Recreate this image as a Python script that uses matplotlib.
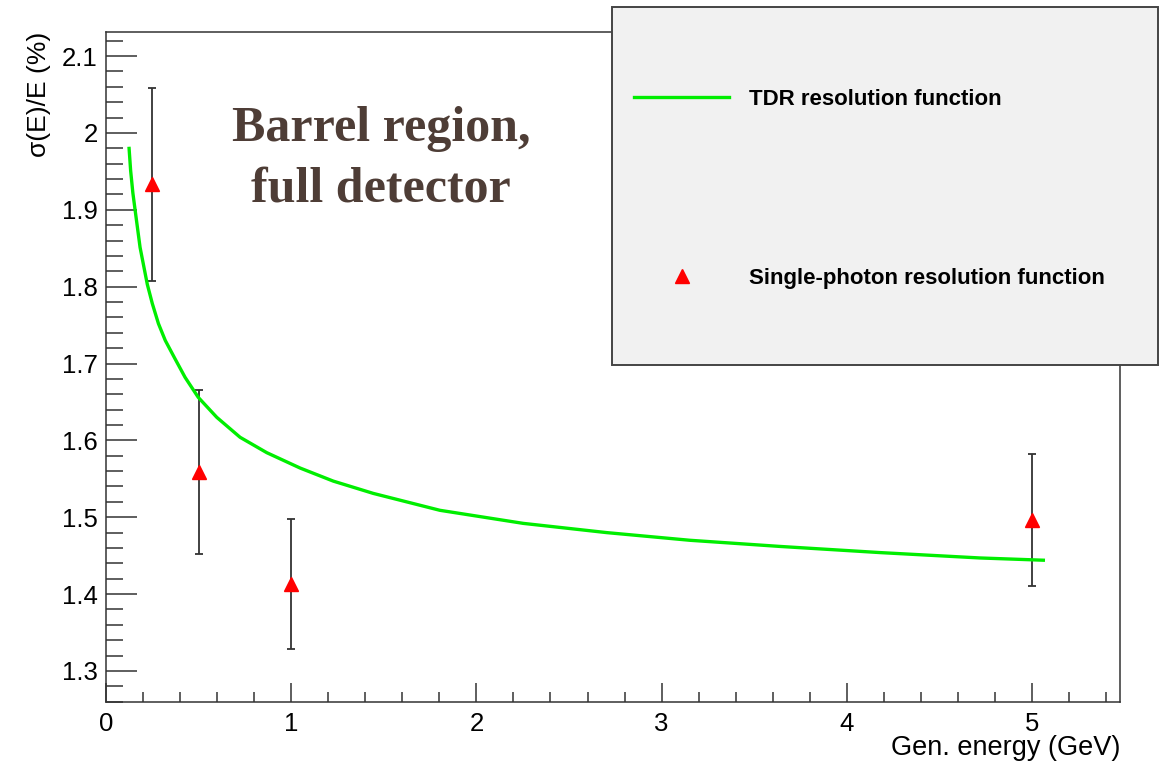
import numpy as np
import matplotlib.pyplot as plt
from matplotlib.patches import Rectangle
from matplotlib.lines import Line2D
from matplotlib.ticker import MultipleLocator

plt.rcParams['font.family'] = ['Liberation Sans', 'DejaVu Sans']

# TDR resolution curve
E_fit = [0.124, 0.133, 0.145, 0.157, 0.184, 0.223, 0.250, 0.283, 0.320, 0.373, 0.427,
         0.498, 0.598, 0.724, 0.868, 1.048, 1.227, 1.443, 1.803, 2.253, 2.703, 3.153,
         3.639, 4.179, 4.719, 5.070]
res_fit = [1.982, 1.951, 1.922, 1.900, 1.851, 1.803, 1.778, 1.752, 1.730, 1.706, 1.682,
           1.656, 1.630, 1.604, 1.584, 1.564, 1.547, 1.531, 1.509, 1.492, 1.480, 1.470,
           1.462, 1.454, 1.447, 1.444]

# single-photon measurements
E_pts = [0.25, 0.5, 1.0, 5.0]
res_pts = [1.933, 1.559, 1.413, 1.496]
err_pts = [0.126, 0.107, 0.085, 0.086]

W, H = 1162, 765
fig = plt.figure(figsize=(W / 100, H / 100), dpi=100)
ax = fig.add_axes([106 / W, 1 - 702 / H, 1014 / W, 670 / H])

green = '#00ee00'
ax.plot(E_fit, res_fit, color=green, lw=2.4, solid_capstyle='butt',
        solid_joinstyle='round', zorder=3)
ax.errorbar(E_pts, res_pts, yerr=err_pts, fmt='none', ecolor='#333333',
            elinewidth=1.3, capsize=3, capthick=1.3, zorder=2)
ax.plot(E_pts, res_pts, '^', color='red', ms=10, mec='red', zorder=4)

ax.set_xlim(0, 5.475)
ax.set_ylim(1.2596, 2.1313)

ax.xaxis.set_major_locator(MultipleLocator(1))
ax.xaxis.set_minor_locator(MultipleLocator(0.2))
ax.yaxis.set_major_locator(MultipleLocator(0.1))
ax.yaxis.set_minor_locator(MultipleLocator(0.02))
ax.yaxis.set_major_formatter(plt.FuncFormatter(lambda v, p: f'{v:g}'))

tc = '#333333'
ax.tick_params(axis='both', which='both', direction='in', color=tc, width=1.1,
               labelsize=18.5, top=False, right=False)
ax.tick_params(axis='y', which='major', length=22, pad=6)
ax.tick_params(axis='y', which='minor', length=12)
ax.tick_params(axis='x', which='major', length=14, pad=7)
ax.tick_params(axis='x', which='minor', length=7)
for s in ax.spines.values():
    s.set_color(tc)
    s.set_linewidth(1.1)

ax.text(1.0, -0.069, 'Gen. energy (GeV)', transform=ax.transAxes,
        ha='right', va='center', fontsize=19.5)
ax.text(-0.066, 1.0, 'σ(E)/E (%)', transform=ax.transAxes, rotation=90,
        ha='center', va='top', fontsize=19)

ax.text(0.271, 0.81, 'Barrel region,\nfull detector', transform=ax.transAxes,
        ha='center', va='center', multialignment='center', linespacing=1.4,
        fontsize=36, fontweight='bold', family='Liberation Serif', color='#4e3d36')

# legend panel over the top right corner
fig.add_artist(Rectangle((612 / W, 1 - 365 / H), 546 / W, 358 / H,
                         transform=fig.transFigure, facecolor='#f1f1f1',
                         edgecolor='#444444', lw=1.4, zorder=4))

handles = [Line2D([], [], color=green, lw=2.4),
           Line2D([], [], ls='none', marker='^', color='red', ms=10)]
labels = ['TDR resolution function', 'Single-photon resolution function']
fs = 16 * 100 / 72
fig.legend(handles, labels, loc='center left', bbox_to_anchor=(623 / W, 1 - 189 / H),
           frameon=False, borderpad=0, labelspacing=(185 - 1.2 * fs) / fs,
           handlelength=95 / fs, handletextpad=20 / fs,
           prop={'size': 16, 'weight': 'bold'})

fig.savefig('out.png', dpi=100)
